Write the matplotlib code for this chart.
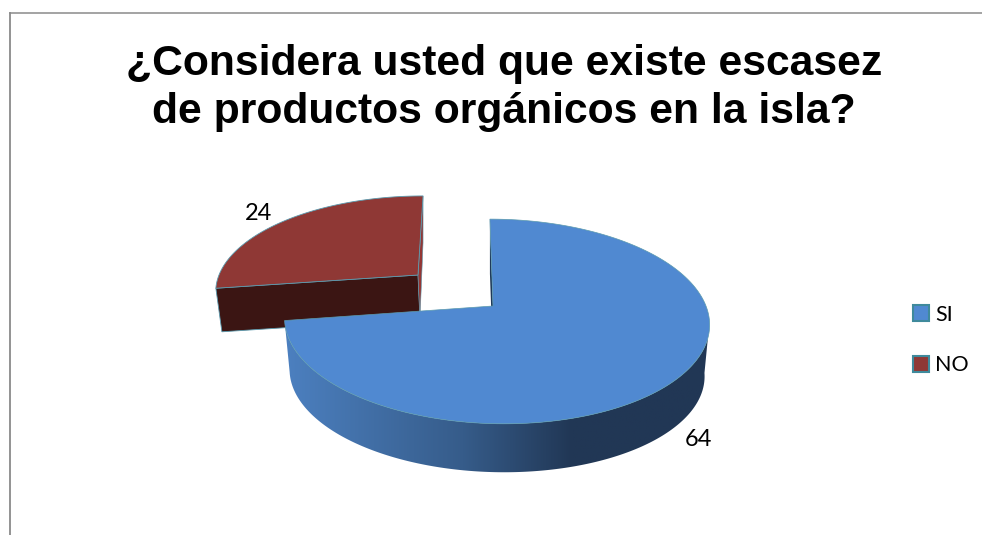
import numpy as np
import matplotlib
matplotlib.use("Agg")
import matplotlib.pyplot as plt
from matplotlib.colors import LinearSegmentedColormap
from matplotlib.patches import Patch, Polygon

# Survey answers
categories = ["SI", "NO"]
values = [64, 24]

title = "¿Considera usted que existe escasez\nde productos orgánicos en la isla?"

top_blue = "#5089d1"
top_red = "#8f3835"
wall_red = "#3b1513"
rim_red = "#943634"
edge_col = "#5b9aae"

# Perspective of the tilted disc
tilt = 0.151
depth_blue = 52
depth_red = 44


def disc(theta, ax0, ay0, a, b, skew):
    # theta runs clockwise from 12 o'clock, far side of the disc is squeezed
    u, v = np.sin(theta), np.cos(theta)
    d = 1 + tilt * v
    return np.column_stack([ax0 + (a * u + skew * v) / d, ay0 - b * v / d])


def wedge(start, stop, apex, ax0, ay0, a, b, skew):
    theta = np.linspace(start, stop, 200)
    return np.vstack([apex, disc(theta, ax0, ay0, a, b, skew)])


shares = np.array(values) / sum(values) * 2 * np.pi
cut = shares[0]

fig = plt.figure(figsize=(9.82, 5.35), dpi=100)
ax = fig.add_axes([0, 0, 1, 1])

# Frame lines at the top and left
ax.plot([10.5, 982], [12.5, 12.5], color="#8a8a8a", lw=1.1)
ax.plot([10.5, 10.5], [12.5, 535], color="#8a8a8a", lw=1.3)

# Red slice, pulled out of the pie
red = dict(ax0=418, ay0=275, a=199, b=91, skew=5.8)
red_low = dict(ax0=420, ay0=275 + depth_red, a=195, b=88, skew=5.8)
red_apex = [red["ax0"], red["ay0"]]
corner = disc(np.array([cut]), **red)[0]
corner_low = disc(np.array([cut]), **red_low)[0]
apex_low = [red_low["ax0"], red_low["ay0"]]
ax.add_patch(Polygon([red_apex, corner, corner_low, apex_low],
                     fc=wall_red, ec=edge_col, lw=0.6, zorder=2))
far_end = disc(np.array([2 * np.pi]), **red)[0]
ax.add_patch(Polygon([far_end, [far_end[0], far_end[1] + 47], apex_low, red_apex],
                     fc=rim_red, ec=edge_col, lw=0.4, zorder=2))
ax.add_patch(Polygon(wedge(cut, 2 * np.pi, red_apex, **red), fc=top_red, ec=edge_col, lw=0.6, zorder=3))

# Blue slice
blue = dict(ax0=496, ay0=306, a=210, b=100, skew=-7)
blue_low = dict(ax0=496, ay0=306 + depth_blue, a=205, b=97, skew=-7)
blue_apex = [493, 306]

# Curved wall with a shaded front, starts where the disc is widest
arc = np.linspace(np.arccos(-tilt), cut, 200)
wall = Polygon(np.vstack([disc(arc, **blue), disc(arc[::-1], **blue_low)]),
               fc="none", ec="none", zorder=4)
ax.add_patch(wall)
shade = LinearSegmentedColormap.from_list("shade", [(0, "#4c80c0"), (0.42, "#365c8a"), (0.68, "#213755"), (1, "#213755")])
img = ax.imshow(np.linspace(0, 1, 256).reshape(1, -1), cmap=shade, extent=[285, 708, 480, 300],
                aspect="auto", zorder=4)
img.set_clip_path(wall)

# Inner wall, only a sliver shows beside the top face
blue_top = disc(np.array([0.0]), **blue)[0]
blue_top_low = disc(np.array([0.0]), **blue_low)[0]
ax.add_patch(Polygon([blue_top, blue_apex, [blue_apex[0], blue_apex[1] + depth_blue], blue_top_low],
                     fc="#1f3a5a", ec="none", zorder=4))
ax.add_patch(Polygon(wedge(0, cut, blue_apex, **blue), fc=top_blue, ec=edge_col, lw=0.5, zorder=5))

# Value labels
ax.text(698, 440, str(values[0]), fontsize=17, family="Lato", ha="center", va="center", color="black", zorder=6)
ax.text(259, 214, str(values[1]), fontsize=17, family="Lato", ha="center", va="center", color="black", zorder=6)

ax.text(504, 88, title, fontsize=30.7, family="Liberation Sans", fontweight="bold",
        ha="center", va="center", linespacing=1.27, color="black")

handles = [Patch(fc=top_blue, ec="#3f8a9c", lw=1.5), Patch(fc=top_red, ec="#3f8a9c", lw=1.5)]
ax.legend(handles, categories, loc="center left", bbox_to_anchor=(913 / 982, 1 - 340 / 535), frameon=False,
          prop={"family": "Lato", "size": 15.5}, handlelength=0.72, handleheight=0.75,
          handletextpad=0.3, labelspacing=1.42, borderpad=0, borderaxespad=0)

ax.set_xlim(0, 982)
ax.set_ylim(535, 0)
ax.axis("off")

fig.savefig("out.png", dpi=100)
